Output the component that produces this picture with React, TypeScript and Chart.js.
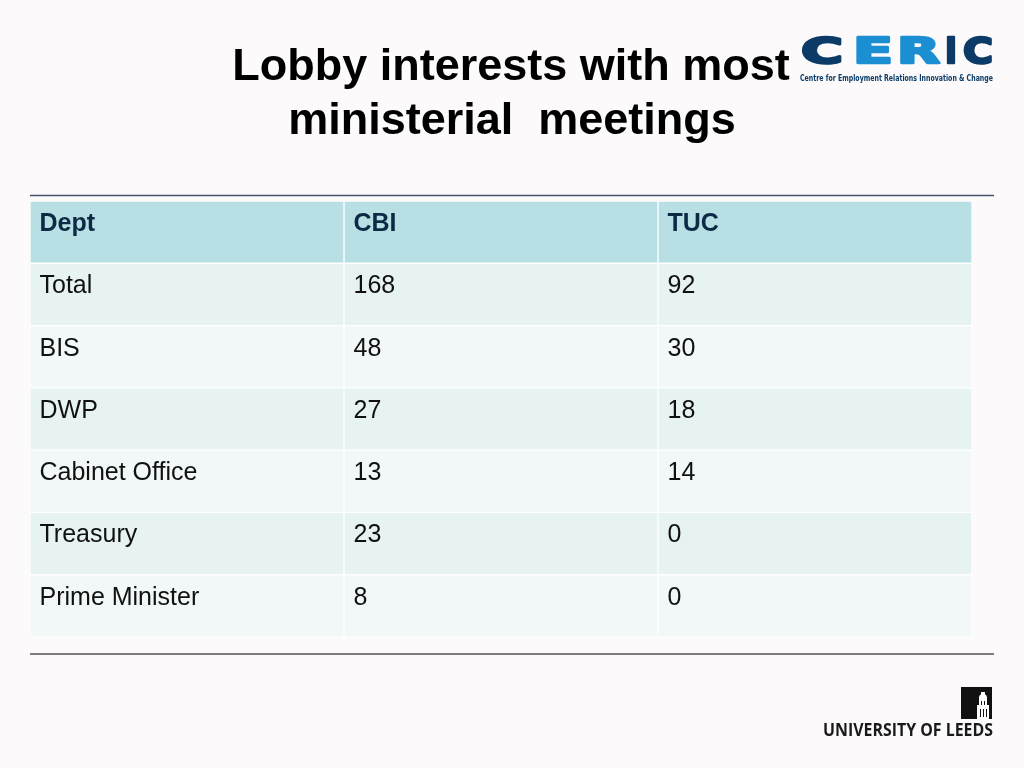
import { useEffect, useRef } from "react";
import { Chart, registerables } from "chart.js";

Chart.register(...registerables);

// ---- data ----
const titleLines = ["Lobby interests with most", "ministerial  meetings"];
const columnHeaders = ["Dept", "CBI", "TUC"];
const departments = ["Total", "BIS", "DWP", "Cabinet Office", "Treasury", "Prime Minister"];
const cbiMeetings = [168, 48, 27, 13, 23, 8];
const tucMeetings = [92, 30, 18, 14, 0, 0];

// ---- styles ----
const BG = "#fcfafb";
const HEADER_BG = "#b8dfe3";
const ROW_BG_A = "#e7f2f3";
const ROW_BG_B = "#f2f7f8";
const HEADER_TEXT = "#0d2a45";
const CELL_TEXT = "#111111";

const rowKeys = ["__header__", ...departments];
const columnCells: string[][] = [
  [columnHeaders[0], ...departments],
  [columnHeaders[1], ...cbiMeetings.map(String)],
  [columnHeaders[2], ...tucMeetings.map(String)],
];
const rowColors = rowKeys.map((_, i) => (i === 0 ? HEADER_BG : i % 2 === 1 ? ROW_BG_A : ROW_BG_B));

function fitText(ctx: CanvasRenderingContext2D, text: string, x: number, y: number, width: number, stroke = 0) {
  const w = ctx.measureText(text).width;
  ctx.save();
  ctx.translate(x, y);
  ctx.scale(width / w, 1);
  ctx.fillText(text, 0, 0);
  if (stroke > 0) {
    ctx.lineWidth = stroke;
    ctx.lineJoin = "round";
    ctx.strokeStyle = ctx.fillStyle as string;
    ctx.strokeText(text, 0, 0);
  }
  ctx.restore();
}

const tablePlugin = {
  id: "tableText",
  beforeDraw(chart: any) {
    const ctx = chart.ctx as CanvasRenderingContext2D;
    ctx.save();
    ctx.fillStyle = BG;
    ctx.fillRect(0, 0, chart.width, chart.height);
    ctx.restore();
  },
  afterDatasetsDraw(chart: any) {
    const ctx = chart.ctx as CanvasRenderingContext2D;
    const area = chart.chartArea;
    ctx.save();

    // title
    ctx.fillStyle = "#000000";
    ctx.font = "bold 45px 'Liberation Sans', Arial, sans-serif";
    ctx.textAlign = "center";
    ctx.textBaseline = "alphabetic";
    ctx.fillText(titleLines[0], 511, 80);
    ctx.fillText(titleLines[1], 512, 134);

    // cell text
    ctx.textAlign = "left";
    for (let j = 0; j < columnCells.length; j++) {
      const meta = chart.getDatasetMeta(j);
      meta.data.forEach((el: any, i: number) => {
        const left = Math.min(el.base, el.x);
        const top = el.y - el.height / 2;
        const header = i === 0;
        ctx.font = `${header ? "bold " : ""}25px 'Liberation Sans', Arial, sans-serif`;
        ctx.fillStyle = header ? HEADER_TEXT : CELL_TEXT;
        ctx.fillText(columnCells[j][i], left + 9.5, top + 30);
      });
    }

    // rules
    ctx.strokeStyle = "#44546c";
    ctx.lineWidth = 1.5;
    ctx.beginPath();
    ctx.moveTo(area.left, area.top - 5.5);
    ctx.lineTo(area.right + 22, area.top - 5.5);
    ctx.stroke();
    ctx.strokeStyle = "#000000";
    ctx.lineWidth = 1.2;
    ctx.beginPath();
    ctx.moveTo(area.left, area.bottom + 17);
    ctx.lineTo(area.right + 22, area.bottom + 17);
    ctx.stroke();

    // CERIC logo
    const navy = "#0b3b66";
    const sky = "#1b8fd2";
    ctx.font = "bold 36px 'DejaVu Sans', sans-serif";
    const letters: [string, number, number, string][] = [
      ["C", 801, 42, navy],
      ["E", 853, 40, sky],
      ["R", 897, 43, sky],
      ["I", 945, 12, navy],
      ["C", 963, 30, navy],
    ];
    letters.forEach(([t, x, w, c]) => {
      ctx.fillStyle = c;
      fitText(ctx, t, x, 63, w, 2.5);
    });
    ctx.fillStyle = navy;
    ctx.font = "bold 9px 'DejaVu Sans', sans-serif";
    fitText(ctx, "Centre for Employment Relations Innovation & Change", 800, 81, 193);

    // University of Leeds logo
    ctx.fillStyle = "#111111";
    ctx.fillRect(961, 687, 31, 32);
    ctx.fillStyle = "#ffffff";
    ctx.beginPath();
    ctx.arc(983, 698, 4, Math.PI, 0);
    ctx.fill();
    ctx.fillRect(981, 692, 4, 3);
    ctx.fillRect(979, 698, 8, 21);
    ctx.fillRect(977, 705, 12, 14);
    ctx.fillStyle = "#111111";
    ctx.fillRect(981, 701, 1, 4);
    ctx.fillRect(984, 701, 1, 4);
    ctx.fillRect(980, 709, 1, 8);
    ctx.fillRect(983, 709, 1, 8);
    ctx.fillRect(986, 709, 1, 8);
    ctx.fillStyle = "#1a1a1a";
    ctx.font = "bold 17px 'Open Sans', sans-serif";
    fitText(ctx, "UNIVERSITY OF LEEDS", 823, 736, 170);
    ctx.restore();
  },
};

export default function App() {
  const canvasRef = useRef<HTMLCanvasElement | null>(null);

  useEffect(() => {
    const canvas = canvasRef.current;
    if (!canvas) return;
    const chart = new Chart(canvas, {
      type: "bar",
      data: {
        labels: rowKeys,
        datasets: columnHeaders.map((h) => ({
          label: h,
          data: rowKeys.map(() => 1),
          backgroundColor: rowColors,
          borderColor: "#ffffff",
          borderWidth: 1,
          borderSkipped: false,
          barPercentage: 1,
          categoryPercentage: 1,
        })),
      },
      options: {
        indexAxis: "y",
        responsive: false,
        animation: false,
        events: [],
        layout: { padding: { left: 30, right: 52, top: 201, bottom: 131 } },
        scales: {
          x: { type: "linear", stacked: true, min: 0, max: columnHeaders.length, display: false },
          y: { type: "category", stacked: true, display: false, offset: true },
        },
        plugins: {
          legend: { display: false },
          tooltip: { enabled: false },
          title: { display: false },
        },
      },
      plugins: [tablePlugin],
    });
    return () => chart.destroy();
  }, []);

  return (
    <div style={{ position: "fixed", left: 0, top: 0, width: 1024, height: 768, background: BG }}>
      <canvas ref={canvasRef} width={1024} height={768} />
    </div>
  );
}
